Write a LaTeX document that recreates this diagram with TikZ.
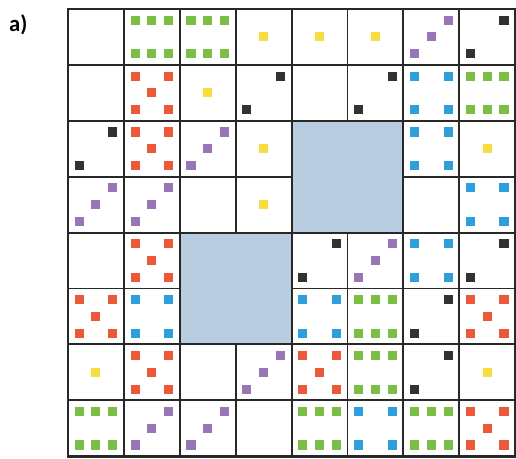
\documentclass[tikz,border=0pt]{standalone}
\usepackage{fontspec}
\setsansfont{Carlito}
\usepackage{tikz}

\definecolor{pipgreen}{RGB}{122,190,70}
\definecolor{pipred}{RGB}{236,88,58}
\definecolor{pipyellow}{RGB}{246,222,60}
\definecolor{pipblack}{RGB}{50,50,50}
\definecolor{pipblue}{RGB}{45,160,220}
\definecolor{pippurple}{RGB}{150,118,180}
\definecolor{holeblue}{RGB}{184,206,224}
\definecolor{lineblack}{RGB}{40,40,40}

\tikzset{
  pip/.style={rectangle,fill=#1,draw=none,inner sep=0pt,minimum size=6.8pt},
  cellline/.style={draw=lineblack,line width=1.4pt},
  frameline/.style={draw=lineblack,line width=2.2pt}
}

% faces: #1 = column (0..7), #2 = row (0..7, from top)
\newcommand{\faceone}[2]{\node[pip=pipyellow] at (#1+0.5,#2+0.5) {};}
\newcommand{\facetwo}[2]{%
  \node[pip=pipblack] at (#1+0.8,#2+0.2) {};
  \node[pip=pipblack] at (#1+0.2,#2+0.8) {};}
\newcommand{\facethree}[2]{%
  \node[pip=pippurple] at (#1+0.8,#2+0.2) {};
  \node[pip=pippurple] at (#1+0.5,#2+0.5) {};
  \node[pip=pippurple] at (#1+0.2,#2+0.8) {};}
\newcommand{\facefour}[2]{%
  \node[pip=pipblue] at (#1+0.2,#2+0.2) {};
  \node[pip=pipblue] at (#1+0.8,#2+0.2) {};
  \node[pip=pipblue] at (#1+0.2,#2+0.8) {};
  \node[pip=pipblue] at (#1+0.8,#2+0.8) {};}
\newcommand{\facefive}[2]{%
  \node[pip=pipred] at (#1+0.2,#2+0.2) {};
  \node[pip=pipred] at (#1+0.8,#2+0.2) {};
  \node[pip=pipred] at (#1+0.5,#2+0.5) {};
  \node[pip=pipred] at (#1+0.2,#2+0.8) {};
  \node[pip=pipred] at (#1+0.8,#2+0.8) {};}
\newcommand{\facesix}[2]{%
  \node[pip=pipgreen] at (#1+0.2,#2+0.2) {};
  \node[pip=pipgreen] at (#1+0.5,#2+0.2) {};
  \node[pip=pipgreen] at (#1+0.8,#2+0.2) {};
  \node[pip=pipgreen] at (#1+0.2,#2+0.8) {};
  \node[pip=pipgreen] at (#1+0.5,#2+0.8) {};
  \node[pip=pipgreen] at (#1+0.8,#2+0.8) {};}

\begin{document}
\begin{tikzpicture}[x=41.9pt,y=-41.9pt]
    \useasboundingbox[fill=white] (-1.2165,-0.161) rectangle (8.0143,8.05);

    \node[font=\sffamily\bfseries\fontsize{17}{19}\selectfont] (label) at (-0.89,0.29) {a)};

    %Board
    \foreach \i in {1,...,7} {
      \draw[cellline] (\i,0) -- (\i,8);
      \draw[cellline] (0,\i) -- (8,\i);
    }
    \draw[cellline,fill=holeblue] (4,2) rectangle (6,4);
    \draw[cellline,fill=holeblue] (2,4) rectangle (4,6);
    \draw[frameline] (0,0) rectangle (8,8);

    %Row 1
    \facesix{1}{0} \facesix{2}{0} \faceone{3}{0} \faceone{4}{0}
    \faceone{5}{0} \facethree{6}{0} \facetwo{7}{0}
    %Row 2
    \facefive{1}{1} \faceone{2}{1} \facetwo{3}{1}
    \facetwo{5}{1} \facefour{6}{1} \facesix{7}{1}
    %Row 3
    \facetwo{0}{2} \facefive{1}{2} \facethree{2}{2} \faceone{3}{2}
    \facefour{6}{2} \faceone{7}{2}
    %Row 4
    \facethree{0}{3} \facethree{1}{3} \faceone{3}{3} \facefour{7}{3}
    %Row 5
    \facefive{1}{4} \facetwo{4}{4} \facethree{5}{4} \facefour{6}{4} \facetwo{7}{4}
    %Row 6
    \facefive{0}{5} \facefour{1}{5} \facefour{4}{5} \facesix{5}{5}
    \facetwo{6}{5} \facefive{7}{5}
    %Row 7
    \faceone{0}{6} \facefive{1}{6} \facethree{3}{6} \facefive{4}{6}
    \facesix{5}{6} \facetwo{6}{6} \faceone{7}{6}
    %Row 8
    \facesix{0}{7} \facethree{1}{7} \facethree{2}{7} \facesix{4}{7}
    \facefour{5}{7} \facesix{6}{7} \facefive{7}{7}

\end{tikzpicture}
\end{document}
